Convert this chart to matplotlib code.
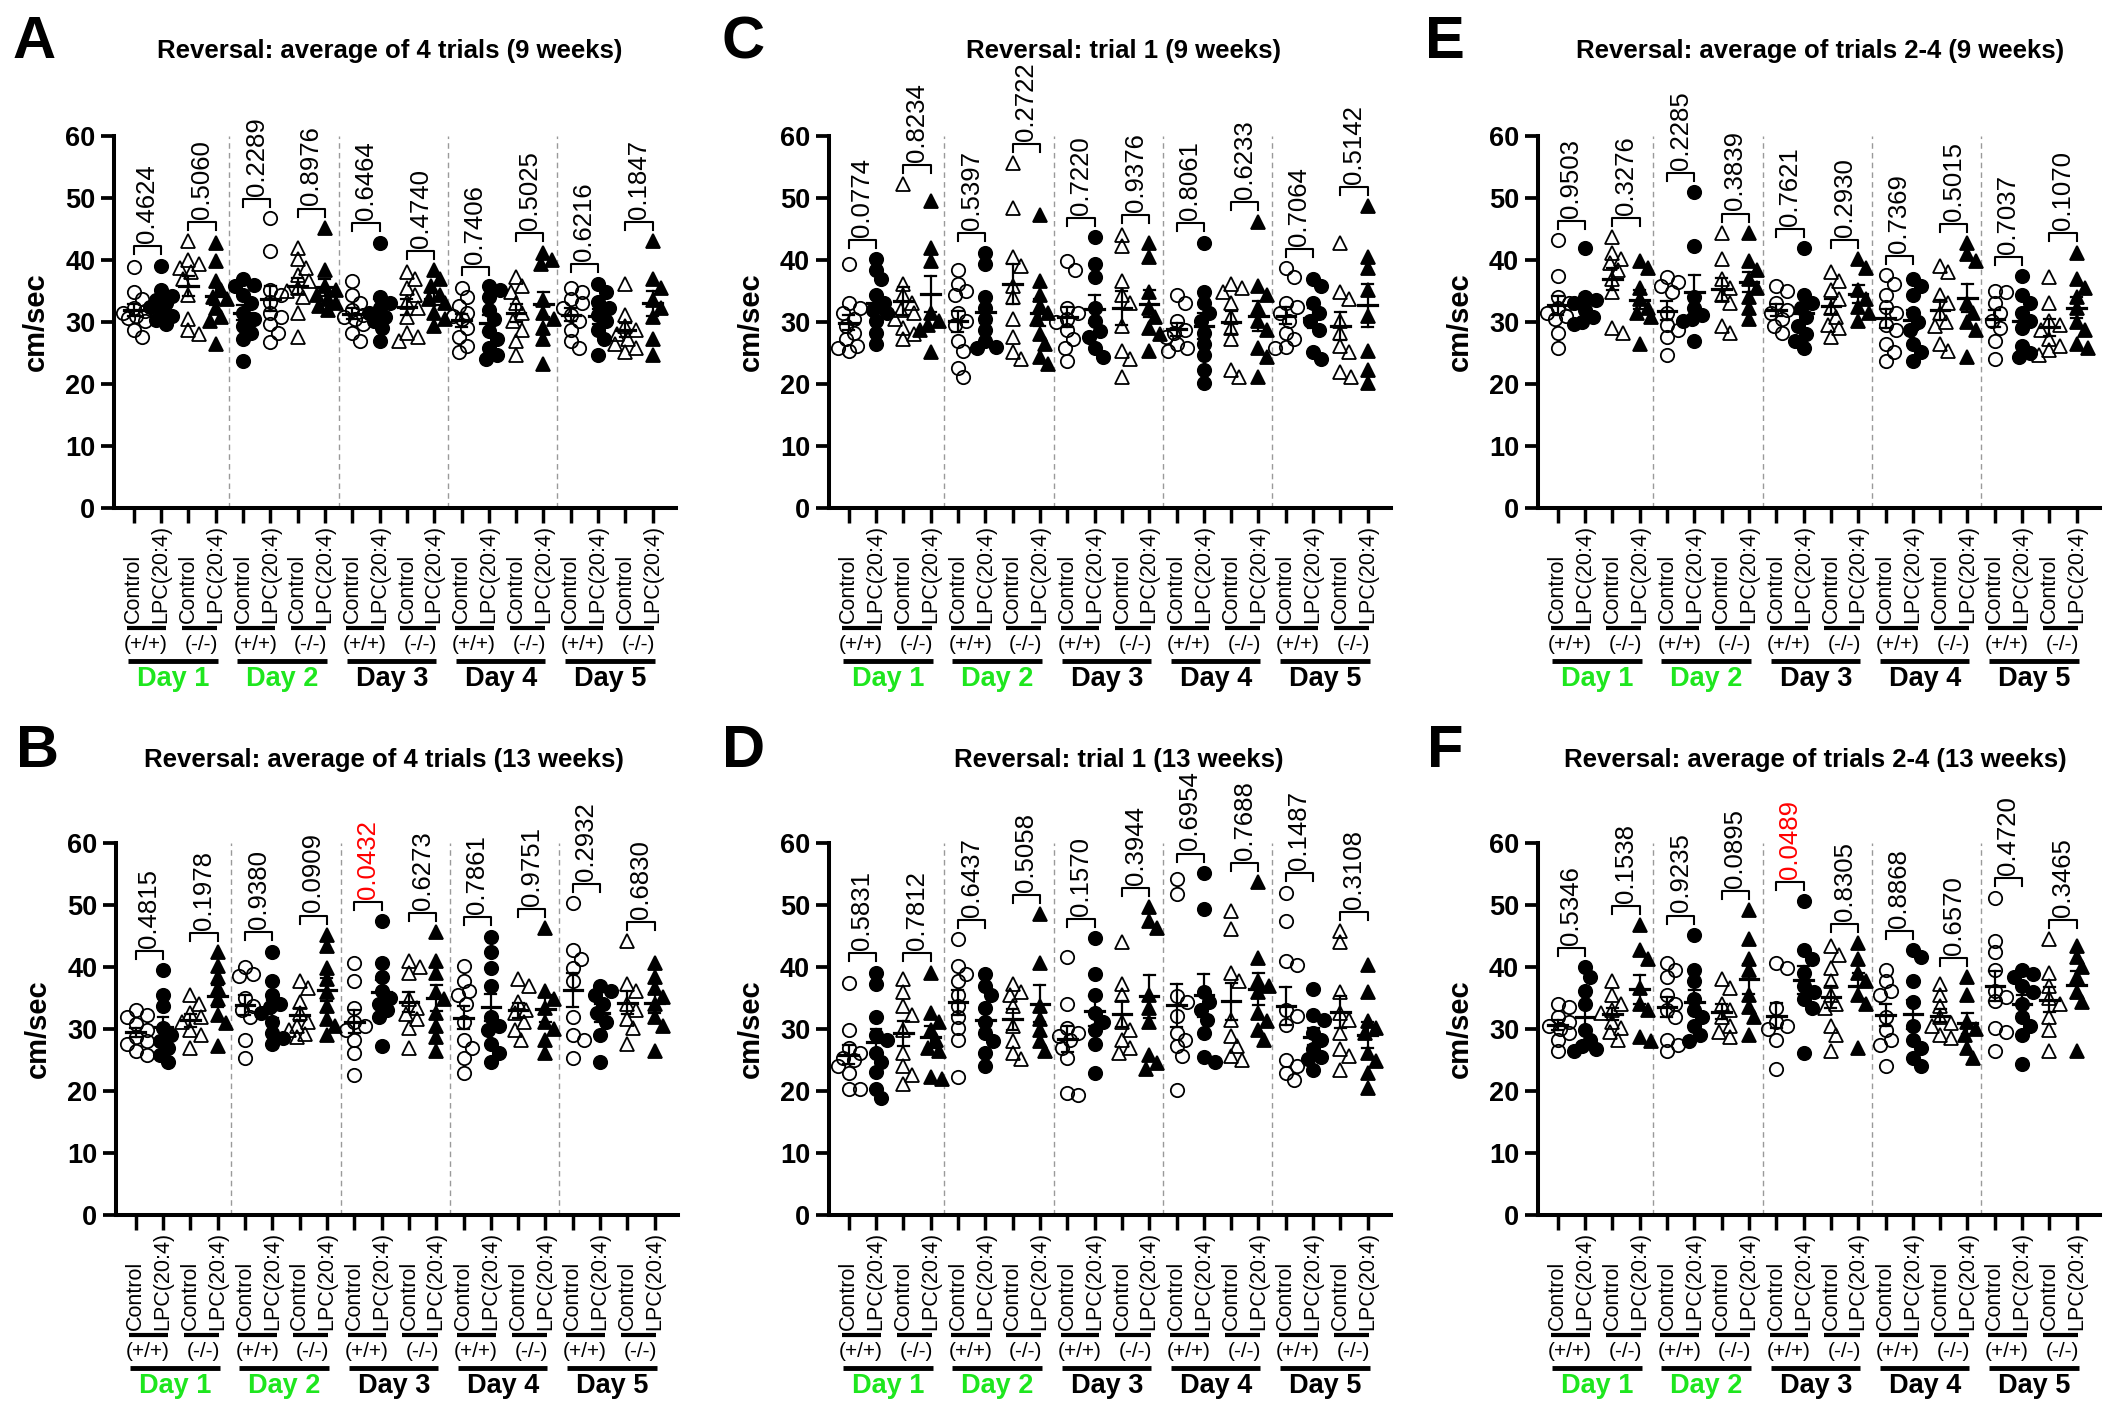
import numpy as np
import matplotlib.pyplot as plt
from matplotlib import transforms

plt.rcParams['font.family'] = ['Liberation Sans', 'DejaVu Sans']

# group order inside each day: Control(+/+), LPC(+/+), Control(-/-), LPC(-/-)
group_labels = ['Control', 'LPC(20:4)', 'Control', 'LPC(20:4)']
genotypes = ['(+/+)', '(-/-)']
days = ['Day 1', 'Day 2', 'Day 3', 'Day 4', 'Day 5']
day_colors = ['#1ee61e', '#1ee61e', 'black', 'black', 'black']

# speed values (cm/sec), 20 groups per panel
a_vals = [
    [38.9, 34.8, 33.7, 32.3, 31.8, 31.5, 31.0, 30.7, 30.1, 28.7, 27.6],
    [39.1, 35.1, 34.2, 33.5, 33.0, 32.4, 31.8, 31.0, 30.3, 29.6],
    [43.0, 40.0, 39.4, 38.7, 38.0, 36.9, 34.4, 30.5, 28.7, 28.0],
    [42.7, 39.8, 36.6, 35.1, 34.0, 33.7, 32.3, 30.8, 30.2, 26.5],
    [36.9, 36.0, 35.8, 34.4, 33.0, 31.5, 30.5, 29.4, 28.3, 27.2, 23.7],
    [46.7, 41.4, 35.1, 34.4, 33.3, 31.5, 30.8, 29.7, 28.3, 26.7],
    [41.9, 40.1, 38.7, 37.6, 36.6, 35.5, 35.0, 34.0, 31.5, 27.6],
    [45.2, 38.4, 35.8, 35.1, 34.4, 33.7, 33.0, 32.6, 31.9],
    [36.6, 34.4, 33.0, 31.9, 31.2, 30.8, 30.5, 29.7, 28.3, 26.9],
    [42.8, 34.0, 33.0, 32.3, 31.5, 30.8, 30.1, 29.0, 26.9],
    [38.0, 36.9, 35.5, 34.4, 33.3, 32.3, 30.8, 28.3, 27.6, 26.9],
    [38.4, 36.9, 35.8, 34.4, 33.7, 33.0, 31.5, 30.5, 29.4],
    [35.5, 34.0, 32.6, 31.5, 31.0, 30.5, 29.0, 27.6, 26.2, 25.1],
    [35.8, 35.1, 34.0, 32.0, 30.5, 28.5, 27.2, 25.8, 24.7, 24.0],
    [37.3, 35.8, 34.8, 33.0, 31.5, 30.1, 28.7, 26.9, 24.7],
    [41.2, 40.0, 39.4, 33.5, 31.5, 30.5, 29.0, 27.2, 23.3],
    [35.5, 34.8, 33.7, 33.0, 32.3, 31.2, 30.1, 28.7, 26.9, 25.8],
    [36.2, 34.8, 33.3, 32.3, 31.2, 30.1, 28.7, 27.2, 24.7],
    [36.2, 31.2, 29.4, 28.7, 28.0, 27.2, 26.5, 25.8, 25.1],
    [43.0, 36.9, 35.5, 33.5, 32.3, 30.8, 27.2, 24.7],
]
a_p = ['0.4624', '0.5060', '0.2289', '0.8976', '0.6464',
       '0.4740', '0.7406', '0.5025', '0.6216', '0.1847']

b_vals = [
    [33.0, 32.3, 31.9, 30.8, 29.8, 28.7, 28.0, 27.6, 26.5, 25.8],
    [39.5, 35.5, 33.7, 30.1, 29.0, 28.0, 26.9, 25.8, 24.7],
    [35.5, 34.1, 32.6, 31.9, 31.2, 29.8, 29.0, 26.9],
    [42.4, 40.2, 38.4, 36.6, 34.8, 32.3, 31.0, 27.2],
    [40.0, 38.8, 38.5, 35.0, 33.7, 33.0, 31.9, 28.3, 25.4],
    [42.5, 37.7, 35.5, 34.1, 33.5, 32.6, 31.2, 29.4, 28.5, 27.6],
    [37.7, 36.6, 34.4, 32.6, 31.2, 30.5, 29.8, 29.2, 28.7],
    [45.2, 43.4, 39.8, 38.0, 36.0, 33.7, 31.6, 30.5, 29.0],
    [40.7, 37.7, 33.4, 31.2, 30.5, 29.8, 28.3, 26.2, 22.6],
    [47.4, 40.6, 38.4, 36.2, 35.0, 34.1, 33.0, 31.9, 27.2],
    [40.9, 40.0, 39.1, 34.8, 33.4, 32.5, 31.6, 30.1, 26.9],
    [45.6, 40.9, 39.1, 36.0, 34.8, 32.6, 30.5, 28.7, 26.5],
    [40.2, 37.7, 36.2, 35.5, 34.1, 31.2, 28.3, 26.9, 25.4, 22.9],
    [44.9, 42.4, 39.8, 37.0, 31.9, 30.5, 29.8, 27.6, 26.2, 24.7],
    [38.0, 37.0, 34.4, 33.0, 32.6, 31.2, 29.8, 28.3],
    [46.3, 36.2, 34.8, 33.4, 31.2, 30.0, 28.3, 26.2],
    [50.3, 42.7, 41.3, 39.8, 37.7, 31.9, 29.0, 28.3, 25.4],
    [37.0, 36.2, 35.5, 34.1, 32.6, 31.2, 29.0, 24.7],
    [44.2, 37.3, 36.2, 34.1, 33.0, 31.6, 30.1, 27.6],
    [40.6, 38.4, 36.6, 35.2, 34.1, 31.9, 30.5, 26.5],
]
b_p = ['0.4815', '0.1978', '0.9380', '0.0909', '0.0432',
       '0.6273', '0.7861', '0.9751', '0.2932', '0.6830']

c_vals = [
    [39.3, 33.0, 32.3, 31.5, 30.5, 29.4, 28.3, 27.2, 26.2, 25.8, 25.4],
    [40.1, 38.4, 36.9, 34.4, 33.0, 32.0, 31.5, 30.1, 28.3, 26.5],
    [52.2, 36.2, 34.4, 33.0, 32.0, 31.5, 30.5, 29.0, 28.0, 27.3],
    [49.5, 41.9, 39.8, 31.5, 30.1, 29.5, 28.7, 25.1],
    [38.4, 36.2, 35.0, 34.4, 31.5, 30.1, 29.5, 26.9, 25.4, 22.6, 21.1],
    [41.2, 39.4, 34.0, 32.3, 30.5, 28.7, 26.9, 26.0, 25.8],
    [55.6, 48.4, 40.5, 39.1, 35.8, 34.0, 30.5, 27.6, 25.1, 24.0],
    [47.3, 36.6, 34.4, 32.6, 31.5, 30.5, 28.0, 26.5, 24.4, 23.3],
    [39.8, 38.4, 32.3, 31.5, 30.5, 30.0, 28.7, 27.2, 25.8, 23.7],
    [43.7, 39.4, 37.3, 32.3, 30.1, 28.5, 27.6, 25.8, 24.4],
    [44.1, 42.3, 36.6, 34.4, 33.0, 29.4, 25.4, 24.0, 21.1],
    [42.7, 40.5, 34.8, 32.3, 30.8, 29.0, 28.0, 25.4],
    [34.4, 33.0, 30.1, 28.7, 28.2, 27.6, 26.5, 25.8, 25.4],
    [42.8, 34.8, 33.0, 31.5, 30.1, 28.3, 26.5, 24.7, 22.2, 20.1],
    [36.2, 35.5, 34.8, 33.0, 30.8, 29.0, 27.2, 22.2, 21.1],
    [46.2, 35.8, 34.4, 32.3, 30.1, 28.7, 25.8, 24.4, 21.1],
    [38.7, 37.3, 33.0, 32.5, 31.5, 30.1, 28.3, 27.2, 26.0, 25.8],
    [36.9, 35.8, 33.0, 31.5, 30.1, 28.7, 25.1, 24.0],
    [42.7, 34.8, 33.7, 30.1, 28.3, 26.2, 25.1, 21.9, 21.1],
    [48.7, 40.5, 38.7, 35.1, 31.0, 25.4, 22.2, 20.1],
]
c_p = ['0.0774', '0.8234', '0.5397', '0.2722', '0.7220',
       '0.9376', '0.8061', '0.6233', '0.7064', '0.5142']

d_vals = [
    [37.5, 29.9, 26.9, 26.2, 25.4, 25.0, 24.0, 22.9, 20.4, 20.4],
    [39.1, 37.3, 31.9, 29.0, 28.3, 26.2, 24.7, 23.0, 20.4, 18.9],
    [38.0, 35.9, 33.7, 32.3, 29.8, 26.2, 24.0, 22.6, 21.1],
    [39.1, 32.6, 31.2, 29.8, 28.3, 27.0, 26.5, 22.2, 22.0],
    [44.5, 40.2, 38.8, 37.7, 35.5, 33.7, 31.9, 30.1, 28.3, 22.2],
    [38.8, 37.0, 35.5, 33.4, 31.2, 29.4, 28.0, 26.2, 24.0],
    [37.3, 36.0, 35.5, 33.7, 30.5, 28.0, 26.2, 25.1],
    [48.5, 40.6, 33.7, 31.6, 29.8, 28.0, 26.5],
    [41.6, 34.1, 30.1, 29.4, 28.8, 28.3, 26.9, 25.4, 19.7, 19.3],
    [44.7, 38.8, 35.5, 32.6, 31.2, 29.8, 27.6, 22.9],
    [44.0, 37.3, 35.5, 31.2, 29.8, 28.3, 27.0, 26.2],
    [49.6, 47.4, 46.3, 35.5, 33.4, 31.2, 25.8, 24.5, 23.6],
    [54.2, 51.7, 35.3, 34.3, 32.1, 29.4, 28.3, 27.2, 25.6, 20.2],
    [55.2, 49.3, 35.9, 34.3, 33.0, 31.5, 29.4, 25.5, 24.6],
    [49.0, 46.1, 39.1, 37.7, 31.5, 28.8, 27.2, 25.6, 25.0],
    [53.7, 41.5, 37.7, 36.9, 35.9, 32.6, 31.3, 29.9, 28.3],
    [52.0, 47.4, 41.0, 40.4, 33.1, 32.1, 30.7, 25.0, 24.0, 22.9, 21.8],
    [36.4, 32.3, 31.5, 29.4, 28.3, 26.7, 25.5, 25.1, 23.4],
    [45.8, 44.0, 35.9, 32.6, 31.5, 29.4, 26.7, 25.6, 23.4],
    [40.4, 35.9, 31.3, 30.2, 29.4, 26.1, 24.8, 22.9, 20.5],
]
d_p = ['0.5831', '0.7812', '0.6437', '0.5058', '0.1570',
       '0.3944', '0.6954', '0.7688', '0.1487', '0.3108']

e_vals = [
    [43.2, 37.4, 34.0, 33.0, 32.3, 31.0, 31.5, 30.5, 28.3, 25.8],
    [41.9, 34.0, 33.5, 33.0, 31.9, 30.8, 30.0, 29.7],
    [43.7, 41.2, 40.1, 39.5, 38.4, 36.9, 34.8, 29.0, 28.3],
    [39.8, 38.7, 35.5, 33.7, 32.3, 30.8, 31.5, 26.5],
    [37.3, 36.5, 35.8, 34.8, 31.5, 29.5, 28.7, 27.6, 24.7],
    [50.9, 42.3, 34.0, 32.3, 31.2, 30.1, 30.5, 26.9],
    [44.4, 40.1, 36.9, 35.5, 34.4, 33.0, 29.4, 28.3],
    [44.4, 39.8, 38.4, 36.9, 35.5, 34.0, 32.3, 30.5],
    [35.8, 35.0, 33.0, 32.0, 31.5, 30.5, 29.4, 28.3],
    [41.9, 34.4, 33.0, 32.3, 30.8, 29.4, 28.0, 27.0, 25.8],
    [38.0, 36.6, 35.1, 33.7, 32.3, 30.8, 29.5, 29.0, 27.6],
    [40.1, 38.7, 35.1, 33.7, 32.5, 31.5, 30.1],
    [37.6, 36.2, 34.4, 32.5, 31.5, 29.5, 28.7, 26.5, 25.1, 23.7],
    [36.9, 35.8, 34.4, 31.5, 30.0, 28.7, 26.5, 25.1, 23.7],
    [39.1, 38.0, 34.4, 33.0, 31.5, 30.0, 29.4, 26.5, 25.4],
    [42.7, 41.0, 39.8, 33.0, 31.5, 30.0, 28.7, 24.4],
    [35.0, 34.8, 33.0, 31.5, 30.1, 29.0, 26.9, 24.0],
    [37.4, 34.4, 33.0, 31.5, 30.1, 29.0, 26.2, 25.0, 24.4],
    [37.3, 33.0, 30.1, 29.5, 28.7, 27.2, 26.2, 25.5, 24.7],
    [41.2, 36.9, 35.5, 34.0, 32.3, 30.0, 28.7, 26.5, 25.8],
]
e_p = ['0.9503', '0.3276', '0.2285', '0.3839', '0.7621',
       '0.2930', '0.7369', '0.5015', '0.7037', '0.1070']

f_vals = [
    [34.1, 33.5, 31.9, 31.2, 30.5, 30.0, 29.4, 28.3, 26.5],
    [40.0, 38.4, 36.2, 34.1, 29.8, 28.3, 27.2, 26.8, 26.5],
    [37.7, 35.5, 34.1, 33.0, 32.6, 31.2, 30.1, 29.5, 28.3],
    [46.7, 42.7, 41.3, 36.6, 34.1, 33.0, 28.7, 28.0],
    [40.6, 39.5, 38.4, 35.5, 34.1, 33.0, 31.9, 28.3, 27.5, 26.5],
    [45.2, 39.5, 37.7, 34.8, 33.0, 31.9, 30.5, 29.0, 28.0],
    [38.0, 36.6, 34.1, 33.0, 31.9, 30.5, 29.5, 28.7],
    [49.2, 44.5, 41.3, 39.5, 35.5, 33.5, 31.9, 29.0],
    [40.6, 39.8, 33.4, 31.2, 30.5, 30.0, 28.3, 23.6],
    [50.6, 42.7, 41.3, 39.1, 37.0, 36.0, 34.8, 33.4, 26.2],
    [43.4, 42.0, 39.8, 37.7, 35.5, 34.0, 33.4, 30.5, 29.0, 26.5],
    [43.8, 41.3, 39.1, 37.7, 35.5, 34.1, 26.9],
    [39.5, 37.7, 36.2, 35.5, 31.9, 29.8, 28.3, 27.5, 24.0],
    [42.7, 41.6, 37.7, 34.4, 30.5, 28.3, 26.9, 25.4, 24.0],
    [37.3, 35.5, 33.7, 31.9, 31.0, 30.5, 29.0, 28.5],
    [38.4, 35.5, 31.2, 30.0, 29.0, 26.9, 25.4],
    [51.2, 44.2, 42.4, 39.5, 36.2, 35.2, 34.5, 30.1, 29.5, 26.5],
    [39.5, 38.8, 38.4, 37.0, 36.0, 34.1, 31.9, 30.5, 29.0, 24.4],
    [44.5, 39.1, 37.0, 35.0, 34.1, 31.9, 29.8, 26.5],
    [43.4, 41.6, 40.0, 38.4, 35.9, 34.4, 26.5],
]
f_p = ['0.5346', '0.1538', '0.9235', '0.0895', '0.0489',
       '0.8305', '0.8868', '0.6570', '0.4720', '0.3465']

titles = {
    'A': 'Reversal: average of 4 trials (9 weeks)',
    'B': 'Reversal: average of 4 trials (13 weeks)',
    'C': 'Reversal: trial 1 (9 weeks)',
    'D': 'Reversal: trial 1 (13 weeks)',
    'E': 'Reversal: average of trials 2-4 (9 weeks)',
    'F': 'Reversal: average of trials 2-4 (13 weeks)',
}

W, H = 2116, 1417
# panel: (data, pvals, axes left / bottom px, title centre x px, letter x px, row)
panels = {
    'A': (a_vals, a_p, 114, 508, 390, 13, 0),
    'C': (c_vals, c_p, 829, 508, 1124, 722, 0),
    'E': (e_vals, e_p, 1538, 508, 1820, 1425, 0),
    'B': (b_vals, b_p, 116, 1215, 384, 16, 1),
    'D': (d_vals, d_p, 829, 1215, 1119, 722, 1),
    'F': (f_vals, f_p, 1538, 1215, 1815, 1427, 1),
}
# panel A shows filled circles first on day 2
fill_swap = {'A': (4, 5)}

AX_W, AX_H = 562, 372
XLIM = (-0.72, 19.85)
PX_X = AX_W / (XLIM[1] - XLIM[0])
PX_Y = AX_H / 60.0


def swarm(v):
    offs = np.zeros(len(v))
    placed = []
    cands = [0.0] + [s * k * 0.1 for k in range(1, 5) for s in (1, -1)]
    for j in np.argsort(-v, kind='stable'):
        y = v[j] * PX_Y
        best, bestd = 0.0, -1.0
        for c in cands:
            dmin = min([np.hypot(c * PX_X - px, y - py) for px, py in placed], default=1e9)
            if dmin >= 10.5:
                best = c
                break
            if dmin > bestd:
                best, bestd = c, dmin
        offs[j] = best
        placed.append((best * PX_X, y))
    return offs


fig = plt.figure(figsize=(W / 100, H / 100), dpi=100)

for key, (vals, pvals, lx, by, tx, letx, row) in panels.items():
    ax = fig.add_axes([lx / W, 1 - by / H, AX_W / W, AX_H / H])
    ax.set_xlim(*XLIM)
    ax.set_ylim(0, 60)
    for s in ('top', 'right'):
        ax.spines[s].set_visible(False)
    for s in ('left', 'bottom'):
        ax.spines[s].set_linewidth(2.9)
    ax.set_yticks(range(0, 61, 10))
    ax.set_xticks(range(20))
    ax.set_xticklabels([])
    ax.tick_params(axis='y', length=9.5, width=2.7, pad=4, labelsize=19.5)
    ax.tick_params(axis='x', length=11, width=2.5)
    for lab in ax.get_yticklabels():
        lab.set_fontweight('bold')
    ax.text(-0.139, 0.5, 'cm/sec', transform=ax.transAxes, rotation=90,
            ha='center', va='center', fontsize=21, fontweight='bold')

    # day separators
    for d in range(1, 5):
        ax.plot([4 * d - 0.5] * 2, [0, 60], color='#9a9a9a', lw=1.0,
                ls=(0, (4, 3)), zorder=1)

    swap = fill_swap.get(key, ())
    for i, v in enumerate(vals):
        v = np.array(v)
        marker = 'o' if i % 4 < 2 else '^'
        filled = (i % 2 == 1) != (i in swap)
        ms = 9.6 if marker == 'o' else 10.4
        ax.plot(i + swarm(v), v, ls='none', marker=marker, ms=ms,
                mfc='black' if filled else 'none', mec='black', mew=1.3,
                zorder=3, clip_on=False)
        m = v.mean()
        se = v.std(ddof=1) / np.sqrt(len(v))
        ax.plot([i - 0.34, i + 0.34], [m, m], color='black', lw=2.3, zorder=4)
        ax.plot([i, i], [m - se, m + se], color='black', lw=1.6, zorder=4)
        for e in (m - se, m + se):
            ax.plot([i - 0.2, i + 0.2], [e, e], color='black', lw=1.6, zorder=4)

    # brackets with p values
    for k, p in enumerate(pvals):
        i = 2 * k
        top = max(max(vals[i]), max(vals[i + 1])) + 3.1
        ax.plot([i, i, i + 1, i + 1], [top - 1.3, top, top, top - 1.3],
                color='black', lw=1.5, clip_on=False, zorder=5)
        ax.text(i + 0.5, top + 0.5, p, rotation=90, ha='center', va='bottom',
                fontsize=18.5, color='red' if float(p) < 0.05 else 'black')

    # category axis labels below the plot
    base = transforms.blended_transform_factory(ax.transData, ax.transAxes)

    def below(pts):
        return transforms.offset_copy(base, fig=fig, y=-pts, units='points')

    for i in range(20):
        ax.text(i, 0, group_labels[i % 4], transform=below(82.8), rotation=90,
                ha='center', va='bottom', fontsize=15.5)
    for d in range(5):
        x0 = 4 * d
        ax.plot([x0 - 0.24, x0 + 1.18], [0, 0], transform=below(86.4),
                color='black', lw=3, clip_on=False, solid_capstyle='butt')
        ax.plot([x0 + 1.76, x0 + 3.05], [0, 0], transform=below(86.4),
                color='black', lw=3, clip_on=False, solid_capstyle='butt')
        ax.text(x0 + 0.45, 0, genotypes[0], transform=below(98),
                ha='center', va='center', fontsize=15)
        ax.text(x0 + 2.48, 0, genotypes[1], transform=below(98),
                ha='center', va='center', fontsize=15)
        ax.plot([x0 - 0.2, x0 + 3.07], [0, 0], transform=below(110),
                color='black', lw=3.5, clip_on=False, solid_capstyle='butt')
        ax.text(x0 + 1.45, 0, days[d], transform=below(123), ha='center',
                va='center', fontsize=19.5, fontweight='bold', color=day_colors[d])

    base_y = 0.959 if row == 0 else 0.459
    fig.text(tx / W, base_y, titles[key], ha='center', va='baseline',
             fontsize=18.5, fontweight='bold')
    fig.text(letx / W, base_y, key, ha='left', va='baseline',
             fontsize=43, fontweight='bold')

fig.savefig('out.png', dpi=100)
